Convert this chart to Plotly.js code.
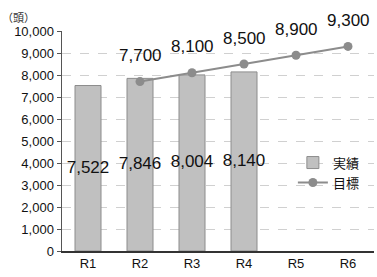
<!DOCTYPE html>
<html><head><meta charset="utf-8">
<script src="https://cdn.plot.ly/plotly-3.0.1.min.js"></script>
<style>html,body{margin:0;padding:0;background:#fff}#c{width:377px;height:277px}</style>
</head><body><div id="c"></div>
<script>
const categories = ["R1","R2","R3","R4","R5","R6"];
const actual = [7522, 7846, 8004, 8140, null, null];
const target = [null, 7700, 8100, 8500, 8900, 9300];
const yTicks = [0,1000,2000,3000,4000,5000,6000,7000,8000,9000,10000];

const fmt = v => v == null ? "" : v.toLocaleString("en-US");
const font = "Liberation Sans, Arial, Noto Sans CJK JP, sans-serif";

const traces = [
  {type:"bar", x:categories, y:actual, name:"実績",
   marker:{color:"#c0c0c0", line:{color:"#8c8c8c", width:1}}, width:0.5,
   hoverinfo:"skip"},
  {type:"scatter", mode:"text", x:categories.slice(0,4),
   y:actual.slice(0,4).map(v=>v/2), text:actual.slice(0,4).map(fmt),
   textposition:"middle center", textfont:{size:17, color:"#111", family:font},
   showlegend:false, hoverinfo:"skip", cliponaxis:false},
  {type:"scatter", mode:"lines+markers", x:categories.slice(1), y:target.slice(1),
   name:"目標",
   line:{color:"#8c8c8c", width:2}, marker:{color:"#8c8c8c", size:9},
   cliponaxis:false, hoverinfo:"skip"}
];

const targetLabels = categories.map((c,i)=>target[i]==null?null:{
  x:c, y:target[i], xref:"x", yref:"y", text:fmt(target[i]), showarrow:false,
  yanchor:"middle", yshift:26, font:{size:17, color:"#111", family:font}
}).filter(a=>a);

const layout = {
  width:377, height:277,
  margin:{l:62, r:3, t:31, b:26},
  paper_bgcolor:"#fff", plot_bgcolor:"#fff",
  font:{family:font, size:13, color:"#111"},
  bargap:0.5,
  xaxis:{type:"category", showline:true, linecolor:"#333", linewidth:1.5,
         ticks:"", showgrid:false, tickfont:{size:13}, fixedrange:true},
  yaxis:{range:[0,10000], tickvals:yTicks, ticktext:yTicks.map(fmt),
         showline:true, linecolor:"#555", linewidth:1.5, ticks:"outside", ticklen:4,
         tickcolor:"#555", gridcolor:"#d0d0d0", griddash:"dash", gridwidth:1,
         zeroline:false, tickfont:{size:13}, fixedrange:true},
  legend:{x:0.74, y:0.47, xanchor:"left", yanchor:"top", bgcolor:"rgba(0,0,0,0)",
          font:{size:13, family:"Noto Sans CJK JP, sans-serif"}, tracegroupgap:2},
  annotations:[{text:"（頭）", xref:"paper", yref:"paper", x:-0.2, y:1.02,
    xanchor:"left", yanchor:"bottom", showarrow:false,
    font:{size:11, family:"Noto Sans CJK JP, sans-serif", color:"#333"}}].concat(targetLabels)
};
Plotly.newPlot("c", traces, layout, {displayModeBar:false, staticPlot:true});
</script></body></html>
